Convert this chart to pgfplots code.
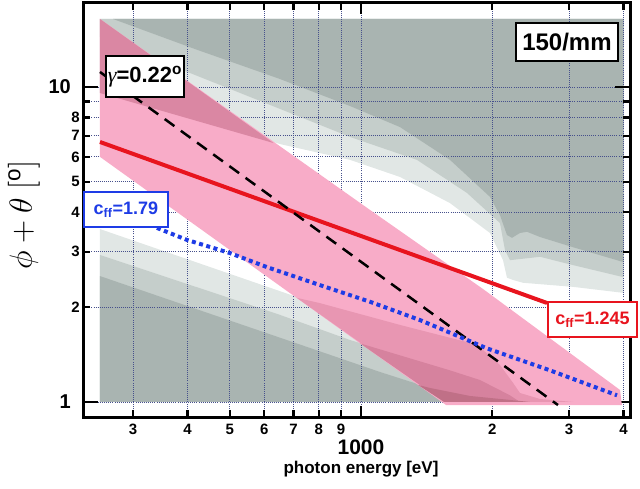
\RequirePackage{fix-cm}
\documentclass[border=0pt]{standalone}
\usepackage{amsmath}
\usepackage{fontspec}
\setmainfont{Liberation Sans}
\newfontfamily\serif{Liberation Serif}
\usepackage{pgfplots}
\pgfplotsset{compat=1.18}

\definecolor{dgrey}{RGB}{169,180,177}
\definecolor{mgrey}{RGB}{197,206,203}
\definecolor{lgrey}{RGB}{225,231,229}
\definecolor{pinkb}{RGB}{248,172,200}
\definecolor{rose1}{RGB}{232,150,178}
\definecolor{rose2}{RGB}{214,130,158}
\definecolor{rose3}{RGB}{192,112,135}
\definecolor{roseT}{RGB}{218,135,163}
\definecolor{redl}{RGB}{232,20,30}
\definecolor{bluel}{RGB}{30,60,230}
\definecolor{gridc}{RGB}{70,80,140}

\begin{document}
\begin{tikzpicture}
\path[use as bounding box] (0pt,0pt) rectangle (640pt,488pt);
% ---------- background contour map
\begin{axis}[
  at={(83pt,71pt)}, anchor=south west,
  scale only axis, width=547pt, height=414pt,
  xmode=log, ymode=log,
  xmin=230.4, xmax=4140, ymin=0.896, ymax=18.48,
  hide axis]
\addplot[fill=lgrey, draw=none] coordinates {
 (252,9.57) (577,6.94) (652,6.59) (944,5.87) (1229,5.18) (1600,4.28) (1976,3.44) (2117,2.82) (2162,2.48) (2232,2.44) (2353,2.39) (3064,2.32) (4000,2.22) (4000,16.44) (252,16.44)};
\addplot[fill=mgrey, draw=none] coordinates {
 (252,14.41) (652,8.52) (944,6.94) (1344,5.87) (1750,4.61) (2083,3.70) (2139,3.04) (2196,2.82) (2574,2.89) (3064,2.72) (4000,2.49) (4000,16.44) (252,16.44)};
\addplot[fill=dgrey, draw=none] coordinates {
 (270,16.44) (416,13.20) (652,10.60) (944,8.70) (1229,7.46) (1600,5.87) (1976,4.48) (2083,3.92) (2162,3.39) (2220,3.32) (2315,3.44) (2403,3.47) (2574,3.34) (3064,3.10) (4000,2.78) (4000,16.44)};
\addplot[fill=lgrey, draw=none] coordinates {
 (252,1) (252,3.54) (713,2.154) (805,2.06) (1229,1.756) (1846,1.52) (2083,1.31) (2232,1.15) (2315,1.068) (2574,1.022) (3064,1)};
\addplot[fill=mgrey, draw=none] coordinates {
 (252,1) (252,2.93) (652,1.89) (944,1.573) (1600,1.26) (1875,1.174) (2196,1.05) (2315,1)};
\addplot[fill=dgrey, draw=none] coordinates {
 (252,1) (252,2.51) (652,1.60) (1106,1.245) (1439,1.108) (1778,1.045) (2196,1.015) (2441,1)};
\end{axis}
% ---------- main axis
\begin{axis}[
  at={(83pt,71pt)}, anchor=south west,
  scale only axis, width=547pt, height=414pt,
  xmode=log, ymode=log,
  xmin=230.4, xmax=4140, ymin=0.896, ymax=18.48,
  clip=false,
  axis line style={line width=3pt},
  tick align=inside,
  xtick={300,400,500,600,700,800,900,2000,3000,4000},
  xticklabels={3,4,5,6,7,8,9,2,3,4},
  ytick={2,3,4,5,6,7,8,9},
  yticklabels={2,3,4,5,6,7,8,{}},
  minor xtick={}, minor ytick={},
  major tick length=7pt,
  every tick/.style={black, line width=2.2pt},
  xticklabel style={font=\fontsize{15}{15}\selectfont\bfseries, inner sep=0pt, yshift=-7pt},
  yticklabel style={font=\fontsize{15}{15}\selectfont\bfseries, inner sep=0pt, xshift=-3pt},
  extra x ticks={1000}, extra x tick labels={1000},
  extra x tick style={major tick length=11pt, xticklabel style={font=\fontsize{21}{21}\selectfont\bfseries, yshift=-16pt}},
  extra y ticks={1,10}, extra y tick labels={1,10},
  extra y tick style={major tick length=15pt, yticklabel style={font=\fontsize{20}{20}\selectfont\bfseries, xshift=-9pt}},
  grid=major,
  major grid style={gridc, line width=0.9pt, dash pattern=on 0.9pt off 1.2pt},
]
% ---- pink band
\addplot[fill=pinkb, draw=none] coordinates {
 (252,16.44) (1049,4.07) (1905,2.284) (3927,1.092) (3967,0.978) (1567,0.978) (252,6.0)};
\addplot[fill=roseT, draw=none] coordinates {(252,16.44) (630,6.64) (252,9.57)};
\addplot[fill=rose1, draw=none] coordinates {
 (713,2.14) (805,2.06) (1229,1.756) (1846,1.52) (2083,1.31) (2232,1.15) (2315,1.068) (2574,1.022) (3064,1) (1553,1)};
\addplot[fill=rose2, draw=none] coordinates {
 (995,1.535) (1600,1.26) (1875,1.174) (2196,1.05) (2315,1) (1553,1)};
\addplot[fill=rose3, draw=none] coordinates {
 (1351,1.133) (1439,1.108) (1778,1.045) (2196,1.015) (2441,1) (1553,1)};
% ---- lines
\addplot[redl, line width=4pt] coordinates {(252,6.69) (2671,2.062)};
\addplot[black, line width=2.5pt, dash pattern=on 12pt off 8pt] coordinates {(252,11.16) (2830,0.978)};
\addplot[bluel, line width=4pt, dash pattern=on 4pt off 3.5pt] coordinates {
 (340.5,3.57) (399,3.27) (500.6,2.97) (608.7,2.68) (805,2.35) (1049,2.08) (1366,1.82) (1945,1.48) (2714,1.26) (3866,1.05)};
% ---- labels
\node[draw=black, line width=1.8pt, fill=white, inner sep=2pt, minimum width=78pt, minimum height=41pt,
      font=\fontsize{22}{22}\selectfont\bfseries] at (axis cs:319.6,10.80)
      {{\serif\itshape\mdseries γ}=0.22\textsuperscript{o}};
\node[draw=black, line width=1.8pt, fill=white, inner sep=2pt, minimum width=102pt, minimum height=38pt,
      font=\fontsize{24}{24}\selectfont\bfseries] at (axis cs:2968,13.90) {150/mm};
\node[draw=bluel, line width=1.5pt, fill=white, text=bluel, inner sep=2pt, minimum width=84pt, minimum height=35pt,
      font=\fontsize{18}{18}\selectfont\bfseries] at (axis cs:289,4.085) {c\textsubscript{ff}=1.79};
\node[draw=redl, line width=1.5pt, fill=white, text=redl, inner sep=2pt, minimum width=89pt, minimum height=35pt,
      font=\fontsize{18}{18}\selectfont\bfseries] at (axis cs:3396,1.827) {c\textsubscript{ff}=1.245};
\end{axis}
\node[rotate=90, font=\fontsize{32}{32}\selectfont, inner sep=0pt] at (24pt,273pt)
  {$\phi+\theta\;[^{\mathrm{o}}]$};
\node[font=\fontsize{17}{17}\selectfont\bfseries] at (361pt,19pt) {photon energy [eV]};
\end{tikzpicture}
\end{document}
